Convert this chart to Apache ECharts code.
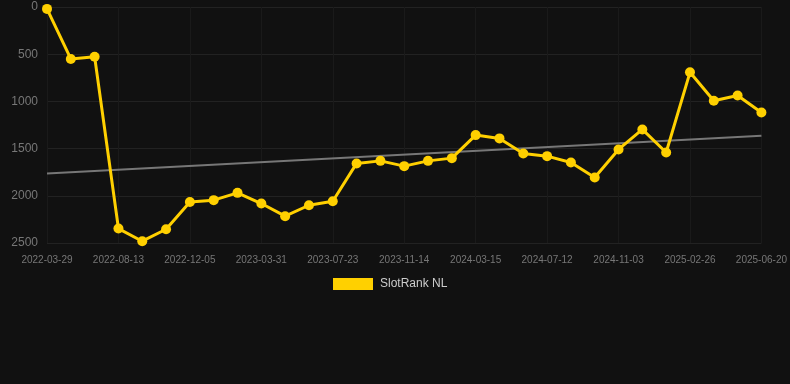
<!DOCTYPE html>
<html>
<head>
<meta charset="utf-8">
<script src="https://cdn.jsdelivr.net/npm/echarts@6/dist/echarts.min.js"></script>
<style>
  html, body { margin: 0; padding: 0; background: #111111; }
  #chart { width: 790px; height: 384px; }
</style>
</head>
<body>
<div id="chart"></div>
<script>
  // dates (every third one is labelled on the axis)
  const dates = [
    '2022-03-29', '2022-05-14', '2022-06-29',
    '2022-08-13', '2022-09-20', '2022-10-28',
    '2022-12-05', '2023-01-09', '2023-02-23',
    '2023-03-31', '2023-05-08', '2023-06-15',
    '2023-07-23', '2023-08-30', '2023-10-07',
    '2023-11-14', '2023-12-24', '2024-02-04',
    '2024-03-15', '2024-04-23', '2024-06-02',
    '2024-07-12', '2024-08-19', '2024-09-26',
    '2024-11-03', '2024-12-12', '2025-01-19',
    '2025-02-26', '2025-04-05', '2025-05-13',
    '2025-06-20'
  ];
  const rank = [
    20, 550, 527,
    2347, 2481, 2354,
    2065, 2046, 1969,
    2082, 2216, 2100,
    2057, 1657, 1630,
    1686, 1630, 1601,
    1357, 1392, 1551,
    1580, 1647, 1806,
    1509, 1297, 1541,
    692, 994, 937,
    1117
  ];
  const trendStart = 1765;
  const trendEnd = 1365;
  const yTicks = [0, 2500, 500];

  let chart = echarts.init(document.getElementById('chart'));

  let option = {
    backgroundColor: '#111111',
    animation: false,
    grid: {
      left: 47,
      right: 28,
      top: 7,
      bottom: 141
    },
    legend: {
      top: 273,
      left: 328,
      itemWidth: 40,
      itemHeight: 12,
      icon: 'rect',
      data: ['SlotRank NL'],
      textStyle: { color: '#cccccc', fontSize: 12, padding: [0, 0, 0, 2] }
    },
    xAxis: {
      type: 'category',
      boundaryGap: false,
      data: dates,
      axisLine: { show: false },
      axisTick: { show: false },
      axisLabel: {
        interval: 2,
        color: '#777777',
        fontSize: 10,
        margin: 12
      },
      splitLine: {
        show: true,
        interval: 2,
        lineStyle: { color: '#1a1a1a', width: 1 }
      }
    },
    yAxis: {
      type: 'value',
      inverse: true,
      min: yTicks[0],
      max: yTicks[1],
      interval: yTicks[2],
      axisLine: { show: false },
      axisTick: { show: false },
      axisLabel: {
        color: '#777777',
        fontSize: 12,
        margin: 9,
        formatter: function (v) { return String(v); }
      },
      splitLine: {
        lineStyle: { color: '#222222', width: 1 }
      }
    },
    series: [
      {
        name: 'Trend',
        type: 'line',
        data: [[dates[0], trendStart], [dates[dates.length - 1], trendEnd]],
        symbol: 'none',
        lineStyle: { color: '#777777', width: 2 },
        itemStyle: { color: '#777777' },
        z: 1
      },
      {
        name: 'SlotRank NL',
        type: 'line',
        data: rank,
        symbol: 'circle',
        symbolSize: 10,
        lineStyle: { color: '#FFD000', width: 3 },
        itemStyle: { color: '#FFD000' },
        z: 2
      }
    ]
  };

  chart.setOption(option);
</script>
</body>
</html>
